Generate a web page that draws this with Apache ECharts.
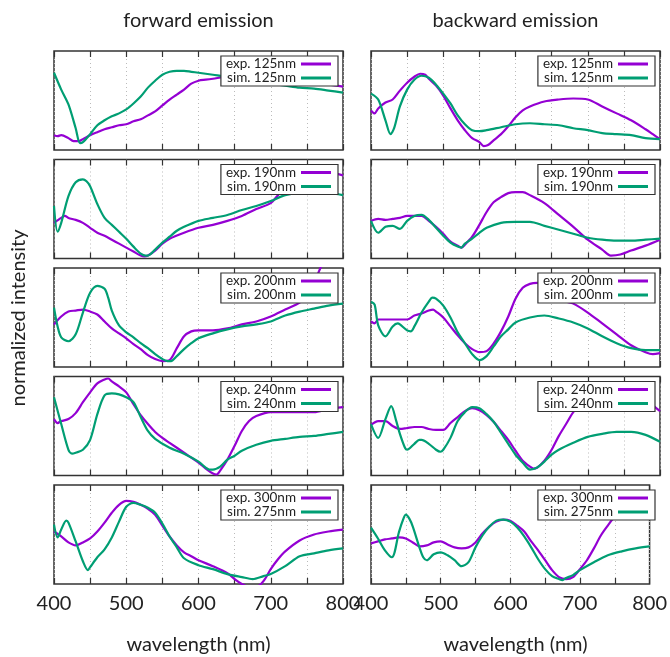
<!DOCTYPE html>
<html>
<head>
<meta charset="utf-8">
<script src="https://cdn.jsdelivr.net/npm/echarts@6/dist/echarts.min.js"></script>
<style>
html,body{margin:0;padding:0;background:#fff;}
#chart{width:670px;height:657px;}
</style>
</head>
<body>
<div id="chart"></div>
<script>
// ---- data (wavelength nm, normalized intensity 0..1 within each panel) ----
const columnTitles = ['forward emission', 'backward emission'];
const xTickLabels = [400, 500, 600, 700, 800];
const expNames = ['exp. 125nm', 'exp. 190nm', 'exp. 200nm', 'exp. 240nm', 'exp. 300nm'];
const simNames = ['sim. 125nm', 'sim. 190nm', 'sim. 200nm', 'sim. 240nm', 'sim. 275nm'];

const fwd125_exp = [[400,0.15],[405,0.14],[410,0.15],[420,0.12],[427,0.09],[434,0.09],[440,0.11],[450,0.15],[460,0.18],[470,0.21],[480,0.23],[490,0.25],[500,0.26],[510,0.29],[520,0.31],[530,0.35],[540,0.39],[550,0.45],[560,0.51],[570,0.56],[580,0.61],[590,0.67],[600,0.70],[610,0.71],[620,0.72],[640,0.74],[660,0.73],[680,0.72],[700,0.71],[720,0.70],[740,0.68],[760,0.67],[780,0.66],[800,0.64]];
const fwd125_sim = [[400,0.78],[410,0.61],[420,0.46],[430,0.22],[436,0.07],[440,0.08],[450,0.16],[460,0.25],[470,0.30],[480,0.34],[490,0.37],[500,0.41],[510,0.47],[520,0.54],[530,0.63],[540,0.70],[550,0.76],[560,0.79],[570,0.80],[580,0.80],[590,0.79],[600,0.78],[620,0.76],[640,0.74],[660,0.71],[680,0.69],[700,0.67],[720,0.65],[740,0.63],[760,0.62],[780,0.60],[800,0.58]];

const bwd125_exp = [[400,0.40],[405,0.37],[410,0.42],[420,0.48],[430,0.51],[440,0.60],[450,0.68],[460,0.74],[468,0.77],[475,0.76],[480,0.72],[490,0.65],[500,0.55],[510,0.42],[520,0.30],[530,0.20],[540,0.12],[550,0.08],[556,0.04],[562,0.05],[570,0.10],[580,0.16],[590,0.24],[600,0.33],[610,0.40],[620,0.44],[640,0.49],[660,0.51],[680,0.52],[700,0.51],[720,0.44],[740,0.37],[760,0.30],[780,0.21],[790,0.16],[800,0.11]];
const bwd125_sim = [[400,0.57],[410,0.51],[420,0.30],[427,0.16],[432,0.22],[440,0.44],[450,0.61],[460,0.71],[470,0.75],[480,0.73],[490,0.66],[500,0.57],[510,0.47],[520,0.35],[530,0.26],[540,0.20],[550,0.19],[560,0.20],[580,0.23],[600,0.26],[620,0.27],[640,0.26],[660,0.25],[680,0.22],[700,0.20],[720,0.17],[740,0.16],[760,0.15],[780,0.12],[800,0.11]];

const fwd190_exp = [[400,0.36],[410,0.41],[415,0.43],[420,0.41],[430,0.39],[440,0.36],[450,0.31],[460,0.26],[470,0.23],[480,0.19],[490,0.15],[500,0.11],[510,0.07],[520,0.03],[525,0.02],[530,0.03],[540,0.08],[550,0.15],[560,0.20],[580,0.26],[600,0.31],[620,0.34],[640,0.38],[660,0.43],[680,0.50],[700,0.56],[710,0.64],[720,0.72],[740,0.80],[760,0.85],[780,0.87],[800,0.84]];
const fwd190_sim = [[400,0.53],[405,0.27],[410,0.36],[420,0.63],[430,0.77],[440,0.80],[445,0.78],[450,0.73],[460,0.55],[470,0.41],[480,0.34],[490,0.27],[500,0.20],[510,0.12],[520,0.05],[527,0.03],[530,0.03],[540,0.09],[550,0.16],[560,0.22],[570,0.28],[580,0.32],[600,0.38],[620,0.41],[640,0.44],[660,0.49],[680,0.53],[700,0.58],[720,0.64],[740,0.66],[760,0.66],[780,0.66],[800,0.64]];

const bwd190_exp = [[400,0.38],[410,0.40],[420,0.39],[430,0.40],[440,0.41],[450,0.43],[460,0.43],[470,0.43],[480,0.38],[490,0.32],[500,0.25],[510,0.17],[520,0.13],[525,0.11],[530,0.14],[540,0.22],[550,0.34],[560,0.47],[570,0.57],[580,0.62],[590,0.66],[600,0.67],[610,0.67],[620,0.64],[640,0.56],[660,0.44],[680,0.32],[700,0.19],[720,0.09],[732,0.03],[745,0.04],[760,0.08],[780,0.13],[800,0.19]];
const bwd190_sim = [[400,0.38],[410,0.26],[420,0.32],[430,0.33],[440,0.30],[450,0.38],[460,0.43],[470,0.44],[480,0.39],[490,0.31],[500,0.23],[510,0.16],[520,0.12],[525,0.11],[530,0.15],[540,0.20],[550,0.26],[560,0.31],[580,0.36],[600,0.37],[620,0.37],[640,0.33],[660,0.29],[680,0.25],[700,0.21],[720,0.19],[740,0.18],[760,0.18],[780,0.19],[800,0.20]];

const fwd200_exp = [[400,0.43],[410,0.51],[420,0.56],[430,0.57],[440,0.58],[450,0.56],[460,0.53],[470,0.46],[480,0.39],[490,0.34],[500,0.29],[510,0.23],[520,0.18],[530,0.12],[540,0.08],[550,0.06],[560,0.07],[570,0.19],[580,0.31],[590,0.36],[600,0.37],[620,0.37],[640,0.39],[660,0.43],[680,0.46],[700,0.51],[720,0.58],[740,0.65],[750,0.72],[760,0.85],[770,1.02],[780,1.15],[800,1.40]];
const fwd200_sim = [[400,0.60],[405,0.41],[410,0.30],[420,0.26],[430,0.33],[440,0.55],[450,0.75],[460,0.82],[470,0.79],[475,0.70],[480,0.57],[490,0.42],[500,0.35],[510,0.30],[520,0.24],[530,0.19],[540,0.13],[550,0.08],[557,0.06],[562,0.06],[570,0.11],[580,0.18],[590,0.24],[600,0.29],[620,0.34],[640,0.38],[660,0.41],[680,0.43],[700,0.46],[720,0.52],[740,0.56],[760,0.59],[780,0.62],[800,0.64]];

const bwd200_exp = [[400,0.46],[405,0.44],[410,0.48],[420,0.48],[440,0.48],[450,0.48],[460,0.52],[470,0.54],[480,0.57],[486,0.58],[490,0.56],[500,0.50],[510,0.41],[520,0.32],[530,0.24],[540,0.18],[550,0.15],[560,0.16],[570,0.24],[580,0.36],[590,0.51],[600,0.69],[610,0.80],[620,0.84],[630,0.85],[640,0.80],[650,0.74],[660,0.69],[670,0.66],[680,0.64],[700,0.55],[720,0.44],[740,0.33],[760,0.22],[780,0.15],[790,0.13],[800,0.14]];
const bwd200_sim = [[400,0.66],[405,0.63],[410,0.42],[420,0.31],[430,0.41],[437,0.44],[440,0.43],[450,0.37],[455,0.36],[460,0.41],[470,0.55],[480,0.66],[485,0.70],[490,0.69],[500,0.62],[510,0.50],[520,0.35],[530,0.24],[540,0.13],[550,0.07],[560,0.11],[570,0.21],[580,0.31],[590,0.38],[600,0.45],[620,0.50],[640,0.52],[660,0.49],[680,0.45],[700,0.39],[720,0.31],[740,0.24],[760,0.19],[780,0.17],[800,0.17]];

const fwd240_exp = [[400,0.57],[405,0.53],[410,0.55],[420,0.57],[430,0.63],[440,0.74],[450,0.84],[460,0.93],[470,0.97],[475,0.98],[480,0.95],[490,0.90],[500,0.84],[510,0.72],[520,0.61],[530,0.52],[540,0.44],[550,0.38],[560,0.33],[580,0.23],[600,0.13],[610,0.07],[620,0.02],[625,0.01],[630,0.05],[640,0.16],[650,0.30],[660,0.45],[670,0.55],[680,0.60],[700,0.64],[720,0.64],[740,0.64],[760,0.64],[780,0.67],[800,0.69]];
const fwd240_sim = [[400,0.79],[410,0.52],[420,0.26],[425,0.22],[430,0.23],[440,0.26],[450,0.36],[460,0.62],[470,0.81],[480,0.83],[490,0.82],[500,0.79],[510,0.74],[520,0.59],[530,0.45],[540,0.37],[560,0.28],[580,0.22],[600,0.14],[610,0.08],[615,0.06],[620,0.06],[630,0.09],[640,0.16],[650,0.20],[660,0.25],[680,0.31],[700,0.35],[720,0.37],[740,0.39],[760,0.40],[780,0.42],[800,0.44]];

const bwd240_exp = [[400,0.51],[410,0.55],[420,0.55],[430,0.50],[440,0.47],[450,0.48],[460,0.49],[470,0.49],[480,0.47],[490,0.46],[500,0.46],[510,0.53],[520,0.59],[530,0.65],[540,0.68],[550,0.66],[560,0.61],[570,0.54],[580,0.45],[590,0.36],[600,0.25],[610,0.15],[620,0.09],[625,0.07],[630,0.08],[640,0.15],[650,0.26],[660,0.40],[670,0.52],[680,0.64],[690,0.72],[700,0.78],[720,0.84],[740,0.85],[760,0.83],[780,0.77],[790,0.71],[800,0.65]];
const bwd240_sim = [[400,0.52],[410,0.38],[420,0.57],[428,0.70],[435,0.55],[440,0.42],[447,0.28],[450,0.26],[460,0.32],[467,0.36],[470,0.36],[480,0.32],[490,0.26],[496,0.24],[500,0.26],[510,0.38],[520,0.55],[530,0.64],[540,0.69],[550,0.68],[560,0.62],[570,0.54],[580,0.43],[590,0.32],[600,0.21],[610,0.13],[620,0.06],[630,0.08],[640,0.14],[650,0.21],[660,0.26],[680,0.33],[700,0.39],[720,0.42],[740,0.44],[760,0.44],[780,0.41],[800,0.34]];

const fwd300_exp = [[400,0.53],[410,0.48],[420,0.42],[430,0.39],[440,0.42],[450,0.46],[460,0.53],[470,0.62],[480,0.72],[490,0.80],[500,0.84],[510,0.83],[520,0.80],[530,0.76],[540,0.70],[550,0.59],[560,0.48],[570,0.39],[580,0.32],[590,0.28],[600,0.24],[620,0.18],[640,0.11],[650,0.05],[660,0.00],[670,-0.03],[680,-0.03],[690,0.03],[700,0.15],[710,0.25],[720,0.33],[740,0.44],[760,0.50],[780,0.53],[800,0.55]];
const fwd275_sim = [[400,0.60],[405,0.47],[410,0.55],[417,0.64],[420,0.62],[430,0.43],[440,0.23],[447,0.14],[450,0.17],[460,0.27],[470,0.35],[480,0.47],[490,0.63],[500,0.78],[510,0.82],[520,0.80],[530,0.77],[540,0.72],[550,0.61],[560,0.48],[570,0.37],[580,0.26],[600,0.19],[620,0.15],[640,0.10],[660,0.07],[675,0.05],[690,0.08],[700,0.10],[720,0.18],[740,0.28],[760,0.31],[780,0.34],[800,0.36]];

const bwd300_exp = [[400,0.41],[410,0.43],[420,0.45],[430,0.46],[440,0.47],[450,0.46],[460,0.42],[470,0.38],[480,0.39],[490,0.42],[500,0.43],[510,0.40],[520,0.37],[530,0.36],[540,0.37],[550,0.42],[560,0.51],[570,0.58],[580,0.63],[590,0.65],[600,0.64],[610,0.59],[620,0.53],[630,0.43],[640,0.34],[650,0.24],[660,0.14],[670,0.07],[680,0.05],[690,0.07],[700,0.15],[710,0.24],[720,0.36],[730,0.49],[740,0.59],[750,0.68],[760,0.72],[780,0.76],[790,0.78],[800,0.79]];
const bwd275_sim = [[400,0.57],[410,0.46],[420,0.34],[430,0.27],[440,0.52],[445,0.63],[450,0.70],[455,0.66],[460,0.58],[470,0.36],[475,0.27],[480,0.24],[490,0.30],[500,0.32],[510,0.29],[520,0.24],[530,0.18],[540,0.22],[550,0.37],[560,0.49],[570,0.58],[580,0.64],[590,0.65],[600,0.63],[610,0.57],[620,0.48],[630,0.37],[640,0.25],[650,0.15],[660,0.08],[670,0.05],[675,0.04],[680,0.06],[690,0.09],[700,0.14],[720,0.22],[740,0.29],[760,0.33],[780,0.36],[800,0.38]];

const forwardExp = [fwd125_exp, fwd190_exp, fwd200_exp, fwd240_exp, fwd300_exp];
const forwardSim = [fwd125_sim, fwd190_sim, fwd200_sim, fwd240_sim, fwd275_sim];
const backwardExp = [bwd125_exp, bwd190_exp, bwd200_exp, bwd240_exp, bwd300_exp];
const backwardSim = [bwd125_sim, bwd190_sim, bwd200_sim, bwd240_sim, bwd275_sim];

// ---- styling / layout ----
const PURPLE = '#9400d3';
const GREEN = '#009e73';
const FONT = 'Lato, "Open Sans", sans-serif';
const colLeft = [54, 371];
const plotW = 289;
const rowTop0 = 51, rowStep = 108.5, plotH = 99;

const grids = [], xAxes = [], yAxes = [], series = [], legends = [];
let gi = 0;
for (let r = 0; r < 5; r++) {
  for (let c = 0; c < 2; c++) {
    const top = rowTop0 + r * rowStep;
    const left = colLeft[c];
    grids.push({left: left, top: top, width: plotW, height: plotH, show: true,
      borderColor: '#333', borderWidth: 1.5, backgroundColor: 'transparent'});
    const isBottom = r === 4;
    xAxes.push({type: 'value', gridIndex: gi, min: 400, max: 800, interval: 50, position: 'bottom',
      axisLine: {show: false},
      axisTick: {show: true, inside: true, length: 6, lineStyle: {color: '#333', width: 1.2}},
      axisLabel: {show: isBottom, margin: 10, fontSize: 20, color: '#222', fontFamily: FONT,
        formatter: v => (xTickLabels.indexOf(v) >= 0 ? String(v) : '')},
      splitLine: {show: true, lineStyle: {color: '#bbbbbb', type: [1, 3], width: 1}}});
    xAxes.push({type: 'value', gridIndex: gi, min: 400, max: 800, interval: 50, position: 'top',
      axisLine: {show: false},
      axisTick: {show: true, inside: true, length: 6, lineStyle: {color: '#333', width: 1.2}},
      axisLabel: {show: false}, splitLine: {show: false}});
    yAxes.push({type: 'value', gridIndex: gi, min: 0, max: 1, show: false});
    const expData = c === 0 ? forwardExp[r] : backwardExp[r];
    const simData = c === 0 ? forwardSim[r] : backwardSim[r];
    series.push({type: 'line', name: expNames[r], xAxisIndex: 2 * gi, yAxisIndex: gi,
      data: expData, showSymbol: false, symbol: 'none', smooth: 0.3, color: PURPLE,
      lineStyle: {color: PURPLE, width: 2.2}, clip: true, silent: true});
    series.push({type: 'line', name: simNames[r], xAxisIndex: 2 * gi, yAxisIndex: gi,
      data: simData, showSymbol: false, symbol: 'none', smooth: 0.3, color: GREEN,
      lineStyle: {color: GREEN, width: 2.2}, clip: true, silent: true});
    legends.push({data: [expNames[r], simNames[r]], orient: 'vertical', align: 'right',
      right: 670 - (left + plotW - 5), top: top + 5,
      icon: 'rect', itemWidth: 30, itemHeight: 3, itemGap: 0,
      padding: [1, 7, 1, 5], backgroundColor: '#fff', borderColor: '#333', borderWidth: 1.2,
      selectedMode: false,
      textStyle: {fontSize: 13.5, lineHeight: 12.5, color: '#222', fontFamily: FONT}});
    gi++;
  }
}

const graphics = [];
for (let c = 0; c < 2; c++) {
  const cx = colLeft[c] + plotW / 2;
  graphics.push({type: 'text', x: cx, y: 21, style: {text: columnTitles[c], font: '20px ' + FONT,
    fill: '#222', textAlign: 'center', textVerticalAlign: 'middle'}});
  graphics.push({type: 'text', x: cx, y: 645, style: {text: 'wavelength (nm)', font: '20px ' + FONT,
    fill: '#222', textAlign: 'center', textVerticalAlign: 'middle'}});
}
graphics.push({type: 'text', x: 19, y: 318, rotation: Math.PI / 2, style: {text: 'normalized intensity',
  font: '20px ' + FONT, fill: '#222', textAlign: 'center', textVerticalAlign: 'middle'}});

const chart = echarts.init(document.getElementById('chart'), null, {renderer: 'canvas'});
chart.setOption({
  animation: false,
  backgroundColor: '#fff',
  grid: grids,
  xAxis: xAxes,
  yAxis: yAxes,
  legend: legends,
  series: series,
  graphic: graphics
});
</script>
</body>
</html>
